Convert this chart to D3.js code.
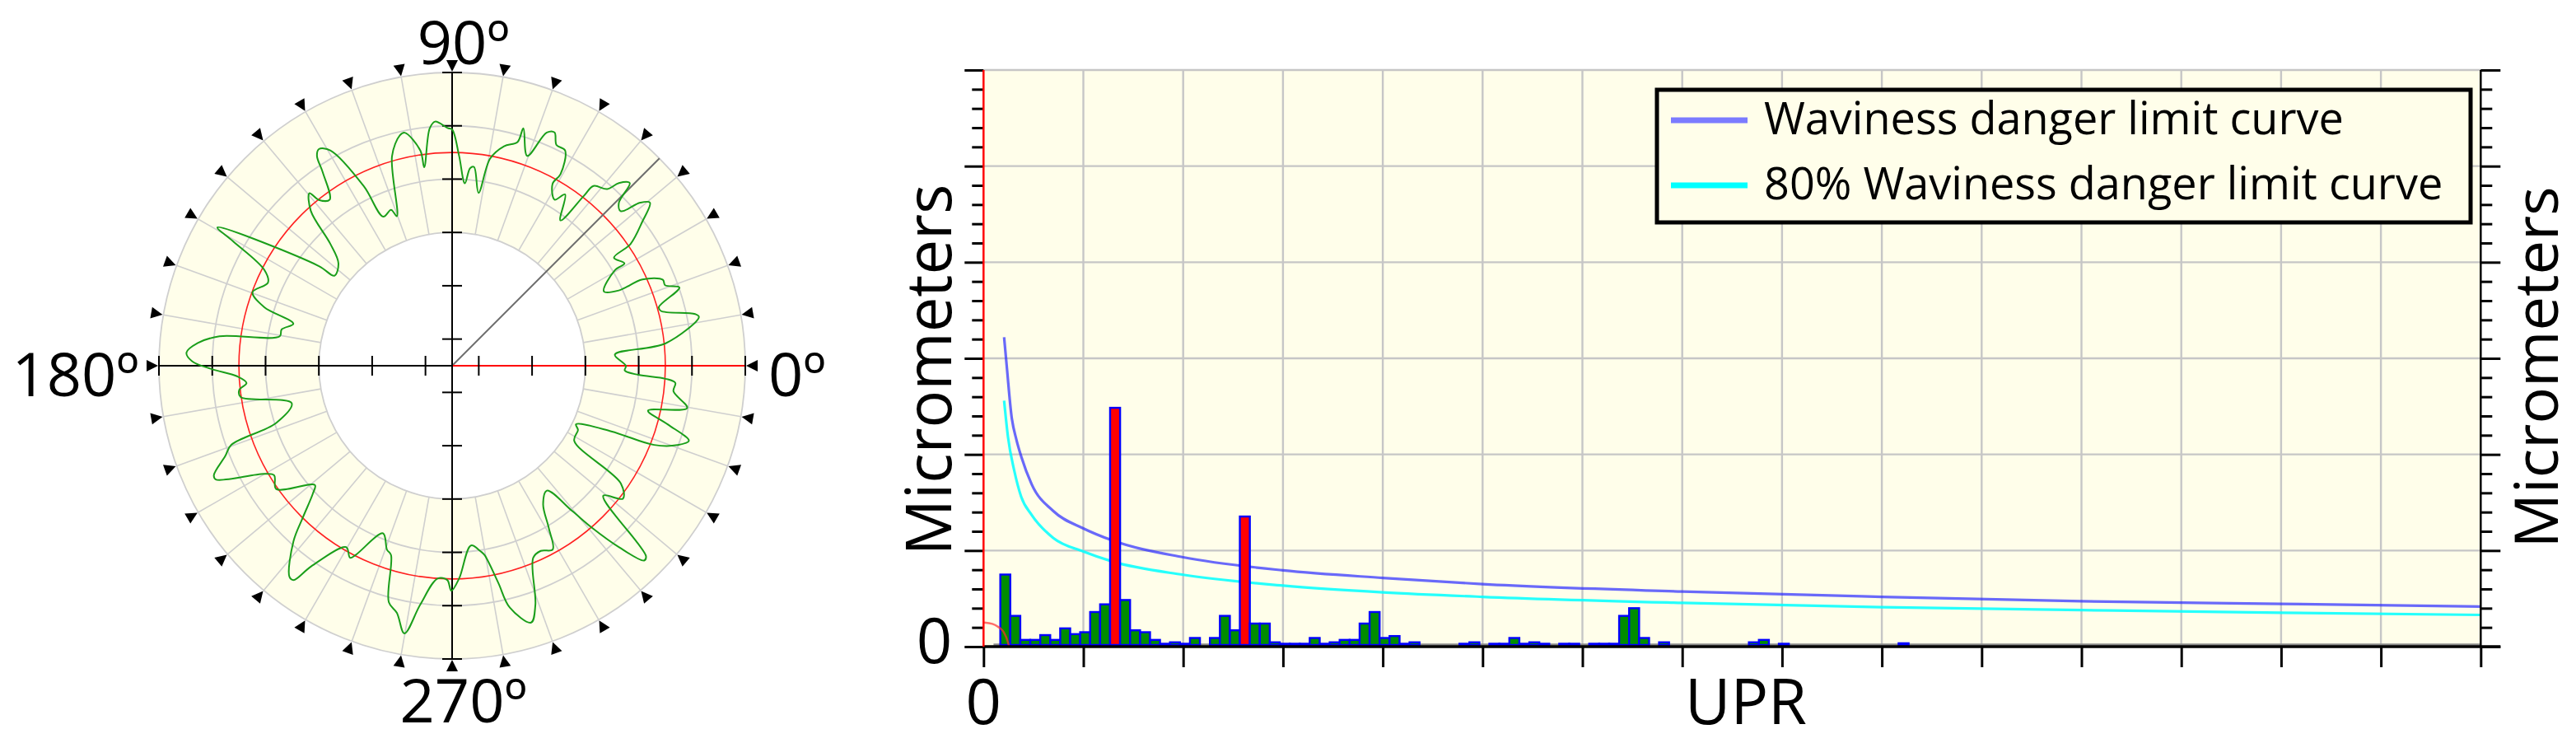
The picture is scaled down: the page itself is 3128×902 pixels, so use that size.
<!DOCTYPE html>
<html><head><meta charset="utf-8">
<script src="https://cdn.jsdelivr.net/npm/d3@7"></script>
<style>body{margin:0;background:#fff} svg{display:block} text{font-family:"Open Sans",sans-serif;fill:#000}</style>
</head><body><svg id="c" width="3128" height="902"></svg>
<script>
// ---------------- data ----------------
// polar roundness profile (angle in degrees CCW from 0º, deviation value)
const polarAngles = [0,3.9,6.0,11.2,12.0,14.7,15.8,19.0,20.7,22.2,24.4,24.3,26.1,30.4,30.7,33.7,34.3,37.1,39.5,40.9,42.5,44.3,45.8,47.6,48.7,51.8,52.2,53.3,56.6,58.3,61.1,60.5,62.3,64.7,66.3,67.9,70.3,73.3,73.7,76.7,79.6,81.3,83.7,84.8,86.0,88.1,90,91.1,94,95.4,98,98.4,101.5,102.8,106,110.3,111.4,114.8,116.2,119.5,121.6,122.8,123.8,126.4,128.8,129.6,132.4,135,138,142.6,143.2,149.5,150.4,153,155.7,159.8,162.7,165.2,168,170.3,172.8,174.9,177.2,179,180.8,182.8,184.8,186.5,188.4,193.1,198,199.7,201.7,204.7,205.7,209.9,211.6,215,221,222.5,225.4,227.9,232.4,233.5,234.9,239.7,242,243,247.6,250.5,252.1,255,257.4,259.9,262.4,266.1,268.7,269.8,271.9,276,278.7,279.7,282,283.4,287.1,289.2,292.9,295.6,298.7,300.8,303.3,307.2,309.6,310.8,312.6,314.6,315.5,319.3,322.1,325.1,328.4,333,334.7,337.6,338.6,340.6,342.4,344.8,347.1,349.8,353.4,355.6,356.5,357.2,358.4];
const polarValues = [2.76,2.56,3.53,4.22,4.16,3.55,3.53,4.01,3.77,3.77,3.42,2.93,2.67,3.04,3.26,3.15,3.55,3.97,4.31,4.17,3.79,3.87,4.28,4.14,3.91,3.79,3.53,2.90,3.35,3.16,3.40,3.63,4.06,4.08,4.28,4.22,3.68,4.15,3.87,3.73,3.45,2.78,3.25,3.22,2.93,3.44,3.93,3.96,4.09,3.97,3.26,3.58,3.96,3.93,3.59,2.49,2.64,2.58,3.25,4.14,4.27,4.18,3.86,3.37,3.49,3.70,3.43,2.73,2.37,2.28,2.62,4.61,4.23,3.45,3.29,3.49,3.19,2.58,2.77,2.78,3.90,4.29,4.49,4.38,4.01,3.54,3.37,3.52,3.51,2.59,2.97,3.90,4.08,4.42,4.42,3.57,3.42,3.53,2.91,3.04,3.48,3.94,4.50,4.50,4.10,3.44,3.58,3.48,2.90,3.16,3.23,4.09,4.25,4.60,4.02,3.50,3.52,3.72,3.49,2.89,3.02,3.10,3.66,4.16,4.54,4.25,3.41,3.35,3.43,3.04,2.61,2.44,3.04,3.51,4.12,4.63,4.60,3.24,3.56,3.36,2.19,2.15,2.07,2.73,3.57,3.98,4.16,3.69,3.27,3.98,3.68,3.70,3.51,3.00,2.74];
const polarTickValues = [0,1,2,3,4,5];
const polarRings = [2,3,4,5];
const polarLimit = 3.5;
const polarSpokes = [0,10,20,30,40,50,60,70,80,90,100,110,120,130,140,150,160,170,180,190,200,210,220,230,240,250,260,270,280,290,300,310,320,330,340,350];
const polarCursorAngle = 45;
const polarLabels = ["0º","90º","180º","270º"];

// waviness spectrum
const barUPR = [2,3,4,5,6,7,8,9,10,11,12,13,14,15,16,17,18,19,20,21,23,24,25,26,27,28,29,30,31,32,33,34,35,36,37,38,39,40,41,42,43,48,49,51,52,53,54,55,56,58,59,61,62,63,64,65,66,68,77,78,80,92];
const barAmp = [0.75,0.32,0.07,0.07,0.12,0.07,0.19,0.13,0.15,0.36,0.44,2.485,0.485,0.17,0.15,0.07,0.03,0.045,0.03,0.09,0.09,0.32,0.17,1.354,0.24,0.24,0.045,0.03,0.03,0.03,0.09,0.03,0.045,0.07,0.07,0.24,0.36,0.09,0.11,0.03,0.045,0.03,0.045,0.03,0.03,0.09,0.03,0.045,0.03,0.03,0.03,0.03,0.03,0.03,0.32,0.40,0.09,0.045,0.045,0.07,0.03,0.035];
const limitUPR = [2.06,2.34,2.8,3.3,3.77,4.82,7.0,10,12.9,20,30,40,50,70,90,110,130,150];
const limitAmp = [3.22,2.90,2.40,2.15,1.98,1.69,1.41,1.23,1.105,0.93,0.794,0.715,0.65,0.573,0.518,0.472,0.445,0.417];
const limit80UPR = [2.06,2.45,3.08,3.77,4.82,7.0,10,12.9,20,30,40,50,70,90,110,130,150];
const limit80Amp = [2.56,2.18,1.83,1.56,1.37,1.13,0.99,0.886,0.748,0.635,0.565,0.518,0.455,0.41,0.38,0.352,0.33];
const lowUPR = [0.06,0.88,1.43,1.98,2.26,2.45,2.56];
const lowAmp = [0.251,0.237,0.208,0.157,0.10,0.043,0.0];
const xTickValues = [0,10,20,30,40,50,60,70,80,90,100,110,120,130,140,150];
const yMajorValues = [0,1,2,3,4,5,6];
const xTickLabels = ["0"];
const yTickLabels = ["0"];
const xTitle = "UPR";
const yTitle = "Micrometers";
const legendLabels = ["Waviness danger limit curve","80% Waviness danger limit curve"];
const legendColors = ["#7b7bff","#00ffff"];

// ---------------- drawing ----------------
const svg = d3.select("#c");
const BG = "#fffeea";
const FS = 76;

// ===== polar chart =====
const cx = 549, cy = 444;
const r = d3.scaleLinear().domain([-0.5, 5]).range([0, 356]);
const rad = d => d * Math.PI / 180;
const P = svg.append("g");
const pt = (a, rr) => [cx + rr * Math.cos(rad(a)), cy - rr * Math.sin(rad(a))];

// annulus
P.append("path")
  .attr("d", d3.arc()({innerRadius: r(2), outerRadius: r(5), startAngle: 0, endAngle: 2 * Math.PI}))
  .attr("transform", `translate(${cx},${cy})`)
  .attr("fill", BG);
// spokes
P.selectAll(".spoke").data(polarSpokes).enter().append("line")
  .attr("x1", d => pt(d, r(2))[0]).attr("y1", d => pt(d, r(2))[1])
  .attr("x2", d => pt(d, r(5))[0]).attr("y2", d => pt(d, r(5))[1])
  .attr("stroke", "#cfcfcf").attr("stroke-width", 1.6);
// rings
P.selectAll(".ring").data(polarRings).enter().append("circle")
  .attr("cx", cx).attr("cy", cy).attr("r", d => r(d))
  .attr("fill", "none").attr("stroke", "#cfcfcf").attr("stroke-width", 1.8);
// limit ring
P.append("circle").attr("cx", cx).attr("cy", cy).attr("r", r(polarLimit))
  .attr("fill", "none").attr("stroke", "#ff2020").attr("stroke-width", 1.6);
// cursor line
P.append("line").attr("x1", cx).attr("y1", cy)
  .attr("x2", pt(polarCursorAngle, r(5))[0]).attr("y2", pt(polarCursorAngle, r(5))[1])
  .attr("stroke", "#6e6e6e").attr("stroke-width", 2);
// axes
P.append("line").attr("x1", cx - r(5)).attr("x2", cx).attr("y1", cy).attr("y2", cy).attr("stroke", "#000").attr("stroke-width", 2);
P.append("line").attr("x1", cx).attr("x2", cx + r(5)).attr("y1", cy).attr("y2", cy).attr("stroke", "#ff0000").attr("stroke-width", 2);
P.append("line").attr("x1", cx).attr("x2", cx).attr("y1", cy - r(5)).attr("y2", cy + r(5)).attr("stroke", "#000").attr("stroke-width", 2);
// axis ticks
polarTickValues.forEach(v => {
  const d = r(v), h = 12;
  [[cx + d, cy], [cx - d, cy]].forEach(([x, y]) =>
    P.append("line").attr("x1", x).attr("x2", x).attr("y1", y - h).attr("y2", y + h).attr("stroke", "#000").attr("stroke-width", 2));
  [[cx, cy - d], [cx, cy + d]].forEach(([x, y]) =>
    P.append("line").attr("x1", x - h).attr("x2", x + h).attr("y1", y).attr("y2", y).attr("stroke", "#000").attr("stroke-width", 2));
});
// triangles
P.selectAll(".tri").data(polarSpokes).enter().append("path")
  .attr("d", `M0,0 L14,-7 L14,7 Z`)
  .attr("transform", d => `translate(${pt(d, r(5) + 1)[0]},${pt(d, r(5) + 1)[1]}) rotate(${-d})`)
  .attr("fill", "#000");
// profile
const prof = polarAngles.map((a, i) => pt(a, r(polarValues[i])));
P.append("path").attr("d", d3.line().curve(d3.curveCatmullRomClosed.alpha(0.5))(prof))
  .attr("fill", "none").attr("stroke", "#1a9e1a").attr("stroke-width", 2);
// labels
const PFS = 74;
function numLabel(txt, x, y, mode) {
  const t = P.append("text").attr("x", x).attr("y", y).attr("font-size", PFS).text(txt);
  if (mode === "center") {
    const w = t.node().getSubStringLength(0, txt.length - 1);
    t.attr("x", x - w / 2);
  } else if (mode === "end") {
    t.attr("text-anchor", "end");
  }
}
numLabel(polarLabels[1], cx, 78, "center");
numLabel(polarLabels[3], cx, 877, "center");
numLabel(polarLabels[0], cx + 384, 481, "start");
numLabel(polarLabels[2], cx - 380, 481, "end");

// ===== spectrum chart =====
const x0 = 1194.3, x1 = 3012.3, yT = 85, yB = 785;
const x = d3.scaleLinear().domain([0, 150]).range([x0, x1]);
const y = d3.scaleLinear().domain([0, 6]).range([yB, yT]);
const S = svg.append("g");
S.append("rect").attr("x", x0).attr("y", yT).attr("width", x1 - x0).attr("height", yB - yT).attr("fill", BG);
// grid
S.selectAll(".gx").data(xTickValues.slice(1, -1)).enter().append("line")
  .attr("x1", d => x(d)).attr("x2", d => x(d)).attr("y1", yT).attr("y2", yB)
  .attr("stroke", "#c6c6c6").attr("stroke-width", 2.4);
S.selectAll(".gy").data(yMajorValues.slice(1)).enter().append("line")
  .attr("x1", x0).attr("x2", x1).attr("y1", d => y(d)).attr("y2", d => y(d))
  .attr("stroke", "#c6c6c6").attr("stroke-width", 2.4);
// gray baseline
S.append("line").attr("x1", x(1)).attr("x2", x1).attr("y1", y(0) - 2.5).attr("y2", y(0) - 2.5)
  .attr("stroke", "#8a8a8a").attr("stroke-width", 2.5);

// limit curves
const lineGen = d3.line().curve(d3.curveMonotoneX).x(d => x(d[0])).y(d => y(d[1]));
S.append("path").attr("d", lineGen(limit80UPR.map((u, i) => [u, limit80Amp[i]])))
  .attr("fill", "none").attr("stroke", "#00ffff").attr("stroke-opacity", 0.85).attr("stroke-width", 3.2);
S.append("path").attr("d", lineGen(limitUPR.map((u, i) => [u, limitAmp[i]])))
  .attr("fill", "none").attr("stroke", "#2a2aff").attr("stroke-opacity", 0.7).attr("stroke-width", 3.2);

// bars
const limAt = d3.scaleLinear().domain(limitUPR).range(limitAmp).clamp(true);
S.selectAll(".bar").data(barUPR.map((u, i) => ({u, v: barAmp[i]}))).enter().append("rect")
  .attr("x", d => x(d.u - 0.32)).attr("width", d => x(d.u + 0.68) - x(d.u - 0.32))
  .attr("y", d => y(d.v)).attr("height", d => y(0) - 2 - y(d.v))
  .attr("fill", d => d.v > limAt(d.u) ? "#ff0000" : "#008c00")
  .attr("stroke", "#0000ff").attr("stroke-width", 2.4);

// low-order limit curve
S.append("path").attr("d", lineGen(lowUPR.map((u, i) => [u, lowAmp[i]])))
  .attr("fill", "none").attr("stroke", "#ff3030").attr("stroke-opacity", 0.7).attr("stroke-width", 2.5);

// axes
const minorVals = d3.range(0, 6.001, 0.2).map(v => +v.toFixed(1)).filter(v => !yMajorValues.includes(v));
function yAxis(gen, pos, size) {
  const g = S.append("g").attr("transform", `translate(${pos},0)`).call(gen.tickSize(size).tickFormat(""));
  g.select(".domain").remove();
  g.selectAll("line").attr("stroke", "#000").attr("stroke-width", 3);
}
yAxis(d3.axisLeft(y).tickValues(yMajorValues), x0, 23);
yAxis(d3.axisLeft(y).tickValues(minorVals), x0, 14);
yAxis(d3.axisRight(y).tickValues(yMajorValues), x1, 24);
yAxis(d3.axisRight(y).tickValues(minorVals), x1, 14);
const gx = S.append("g").attr("transform", `translate(0,${yB})`).call(d3.axisBottom(x).tickValues(xTickValues).tickSize(25).tickFormat(""));
gx.select(".domain").remove();
gx.selectAll("line").attr("stroke", "#000").attr("stroke-width", 3);
S.append("line").attr("x1", x1).attr("x2", x1).attr("y1", yT).attr("y2", yB).attr("stroke", "#000").attr("stroke-width", 2.5);
S.append("line").attr("x1", x0).attr("x2", x1 + 24).attr("y1", yB).attr("y2", yB).attr("stroke", "#000").attr("stroke-width", 3.5);
S.append("line").attr("x1", x0).attr("x2", x0).attr("y1", yT).attr("y2", yB).attr("stroke", "#ff0000").attr("stroke-width", 2.5);

// tick labels and titles
S.append("text").attr("x", x0 - 38).attr("y", y(0) + 20).attr("text-anchor", "end").attr("font-size", FS).text(yTickLabels[0]);
S.append("text").attr("x", x(0)).attr("y", 879).attr("text-anchor", "middle").attr("font-size", FS).text(xTickLabels[0]);
S.append("text").attr("x", 2120).attr("y", 879).attr("text-anchor", "middle").attr("font-size", FS).text(xTitle);
S.append("text").attr("transform", `translate(1155,449) rotate(-90)`).attr("text-anchor", "middle").attr("font-size", FS).text(yTitle);
S.append("text").attr("transform", `translate(3106,446) rotate(-90)`).attr("text-anchor", "middle").attr("font-size", 74).text(yTitle);

// legend
const L = S.append("g");
L.append("rect").attr("x", 2012).attr("y", 109).attr("width", 988).attr("height", 161)
  .attr("fill", BG).attr("stroke", "#000").attr("stroke-width", 5);
legendLabels.forEach((lab, i) => {
  const ly = 146 + i * 79;
  L.append("line").attr("x1", 2029).attr("x2", 2122).attr("y1", ly).attr("y2", ly)
    .attr("stroke", legendColors[i]).attr("stroke-width", 7);
  L.append("text").attr("x", 2142).attr("y", ly + 17).attr("font-size", 54).text(lab);
});
</script></body></html>
